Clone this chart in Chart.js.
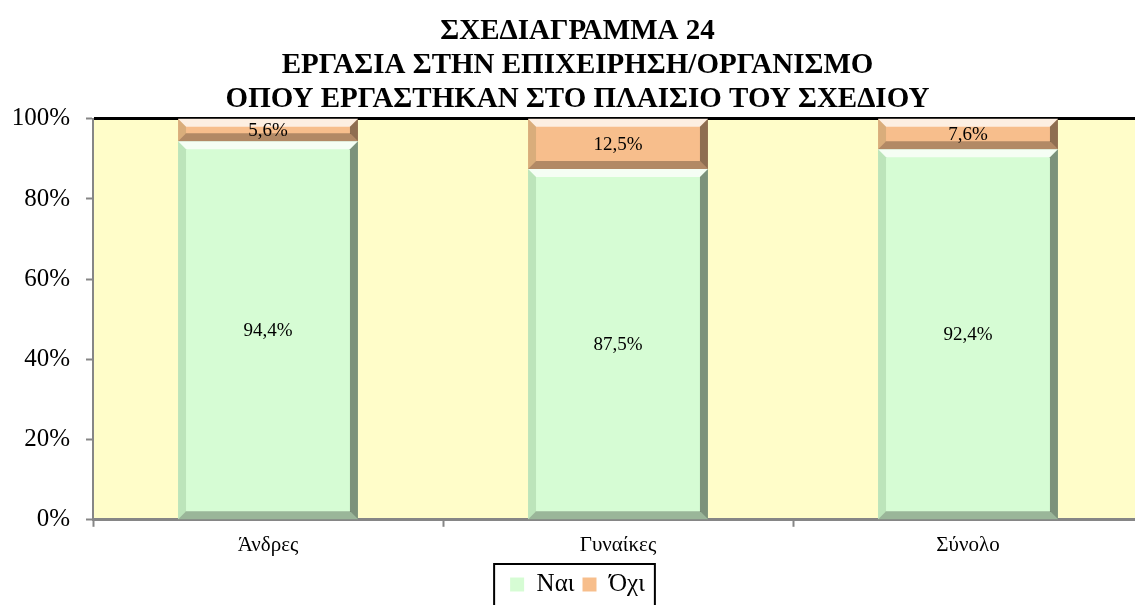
<!DOCTYPE html>
<html>
<head>
<meta charset="utf-8">
<script src="https://cdn.jsdelivr.net/npm/chart.js@4.4.1/dist/chart.umd.min.js"></script>
<style>
  html, body { margin: 0; padding: 0; background: #fff; overflow: hidden; }
  #wrap { width: 1170px; height: 607px; position: relative; }
</style>
</head>
<body>
<div id="wrap"><canvas id="chart"></canvas></div>
<script>
// Δεδομένα του σχεδιαγράμματος
const categories = ['Άνδρες', 'Γυναίκες', 'Σύνολο'];
const seriesNames = ['Ναι', 'Όχι'];
const yesValues = [94.4, 87.5, 92.4];
const noValues = [5.6, 12.5, 7.6];
const titleLines = ['ΣΧΕΔΙΑΓΡΑΜΜΑ 24', 'ΕΡΓΑΣΙΑ ΣΤΗΝ ΕΠΙΧΕΙΡΗΣΗ/ΟΡΓΑΝΙΣΜΟ', 'ΟΠΟΥ ΕΡΓΑΣΤΗΚΑΝ ΣΤΟ ΠΛΑΙΣΙΟ ΤΟΥ ΣΧΕΔΙΟΥ'];

const serif = '"Liberation Serif", "Times New Roman", serif';

// Φόντο της περιοχής σχεδίασης
const plotBackground = {
  id: 'plotBackground',
  beforeDraw(chart) {
    const { ctx, chartArea } = chart;
    ctx.save();
    ctx.fillStyle = '#FFFDC9';
    ctx.fillRect(chartArea.left, chartArea.top, chartArea.right - chartArea.left, chartArea.bottom - chartArea.top);
    ctx.restore();
  }
};

// Ανάγλυφο εφέ στις μπάρες
const bevelBars = {
  id: 'bevelBars',
  afterDatasetsDraw(chart) {
    const ctx = chart.ctx;
    chart.data.datasets.forEach((ds, i) => {
      const meta = chart.getDatasetMeta(i);
      meta.data.forEach(bar => {
        const l = bar.x - bar.width / 2, r = bar.x + bar.width / 2;
        const t = Math.min(bar.y, bar.base), b = Math.max(bar.y, bar.base);
        const bv = Math.min(8, (b - t) / 2);
        ctx.save();
        // πάνω
        ctx.fillStyle = 'rgba(255,255,255,0.75)';
        ctx.beginPath();
        ctx.moveTo(l, t); ctx.lineTo(r, t); ctx.lineTo(r - bv, t + bv); ctx.lineTo(l + bv, t + bv); ctx.closePath(); ctx.fill();
        // αριστερά
        ctx.fillStyle = 'rgba(0,60,0,0.12)';
        ctx.beginPath();
        ctx.moveTo(l, t); ctx.lineTo(l + bv, t + bv); ctx.lineTo(l + bv, b - bv); ctx.lineTo(l, b); ctx.closePath(); ctx.fill();
        // δεξιά
        ctx.fillStyle = 'rgba(0,0,0,0.42)';
        ctx.beginPath();
        ctx.moveTo(r, t); ctx.lineTo(r - bv, t + bv); ctx.lineTo(r - bv, b - bv); ctx.lineTo(r, b); ctx.closePath(); ctx.fill();
        // κάτω
        ctx.fillStyle = 'rgba(0,0,0,0.28)';
        ctx.beginPath();
        ctx.moveTo(l, b); ctx.lineTo(l + bv, b - bv); ctx.lineTo(r - bv, b - bv); ctx.lineTo(r, b); ctx.closePath(); ctx.fill();
        ctx.restore();
      });
    });
  }
};

// Ετικέτες τιμών στο κέντρο κάθε τμήματος
const valueLabels = {
  id: 'valueLabels',
  afterDatasetsDraw(chart) {
    const ctx = chart.ctx;
    ctx.save();
    ctx.font = '19px ' + serif;
    ctx.fillStyle = '#000';
    ctx.textAlign = 'center';
    ctx.textBaseline = 'middle';
    chart.data.datasets.forEach((ds, i) => {
      chart.getDatasetMeta(i).data.forEach((bar, j) => {
        const txt = ds.data[j].toFixed(1).replace('.', ',') + '%';
        ctx.fillText(txt, bar.x, (bar.y + bar.base) / 2 + 1);
      });
    });
    ctx.restore();
  }
};

// Πλαίσιο γύρω από το υπόμνημα
const legendFrame = {
  id: 'legendFrame',
  afterDraw(chart) {
    const boxes = chart.legend && chart.legend.legendHitBoxes;
    if (!boxes || !boxes.length) return;
    let minX = Infinity, maxX = -Infinity, minY = Infinity;
    boxes.forEach(h => {
      minX = Math.min(minX, h.left); maxX = Math.max(maxX, h.left + h.width);
      minY = Math.min(minY, h.top);
    });
    const ctx = chart.ctx;
    ctx.save();
    ctx.strokeStyle = '#000';
    ctx.lineWidth = 2;
    ctx.strokeRect(minX - 16, minY - 8, maxX - minX + 26, 80);
    ctx.restore();
  }
};

new Chart(document.getElementById('chart'), {
  type: 'bar',
  data: {
    labels: categories,
    datasets: [
      {
        label: seriesNames[0],
        data: yesValues,
        backgroundColor: '#D6FCD4',
        borderWidth: 0,
        barPercentage: 0.514,
        categoryPercentage: 1
      },
      {
        label: seriesNames[1],
        data: noValues,
        backgroundColor: '#F7BE8C',
        borderWidth: 0,
        barPercentage: 0.514,
        categoryPercentage: 1
      }
    ]
  },
  options: {
    responsive: true,
    maintainAspectRatio: false,
    animation: false,
    layout: { padding: { left: 12, right: 27, top: 4, bottom: 0 } },
    plugins: {
      title: {
        display: true,
        text: titleLines,
        color: '#000',
        font: { family: serif, size: 29, weight: 'bold', lineHeight: 1.17 },
        padding: { top: 11, bottom: 2 }
      },
      legend: {
        position: 'bottom',
        labels: {
          color: '#000',
          font: { family: serif, size: 25 },
          boxWidth: 14,
          boxHeight: 14,
          padding: 8
        }
      },
      tooltip: { enabled: false }
    },
    scales: {
      x: {
        stacked: true,
        border: { color: '#868686', width: 3 },
        grid: { drawOnChartArea: false, tickLength: 7, tickColor: '#868686', tickWidth: 2 },
        ticks: { color: '#000', font: { family: serif, size: 21 }, padding: 6 }
      },
      y: {
        stacked: true,
        min: 0,
        max: 100,
        border: { color: '#868686', width: 2 },
        grid: {
          color: ctx => ctx.tick && ctx.tick.value === 100 ? '#000' : 'rgba(0,0,0,0)',
          lineWidth: ctx => ctx.tick && ctx.tick.value === 100 ? 3 : 1,
          tickColor: '#868686',
          tickLength: 7,
          tickWidth: 2
        },
        ticks: {
          stepSize: 20,
          color: '#000',
          font: { family: serif, size: 25 },
          padding: 16,
          callback: v => v + '%'
        },
        afterFit(scale) { scale.width = 81; }
      }
    }
  },
  plugins: [plotBackground, bevelBars, valueLabels, legendFrame]
});
</script>
</body>
</html>
